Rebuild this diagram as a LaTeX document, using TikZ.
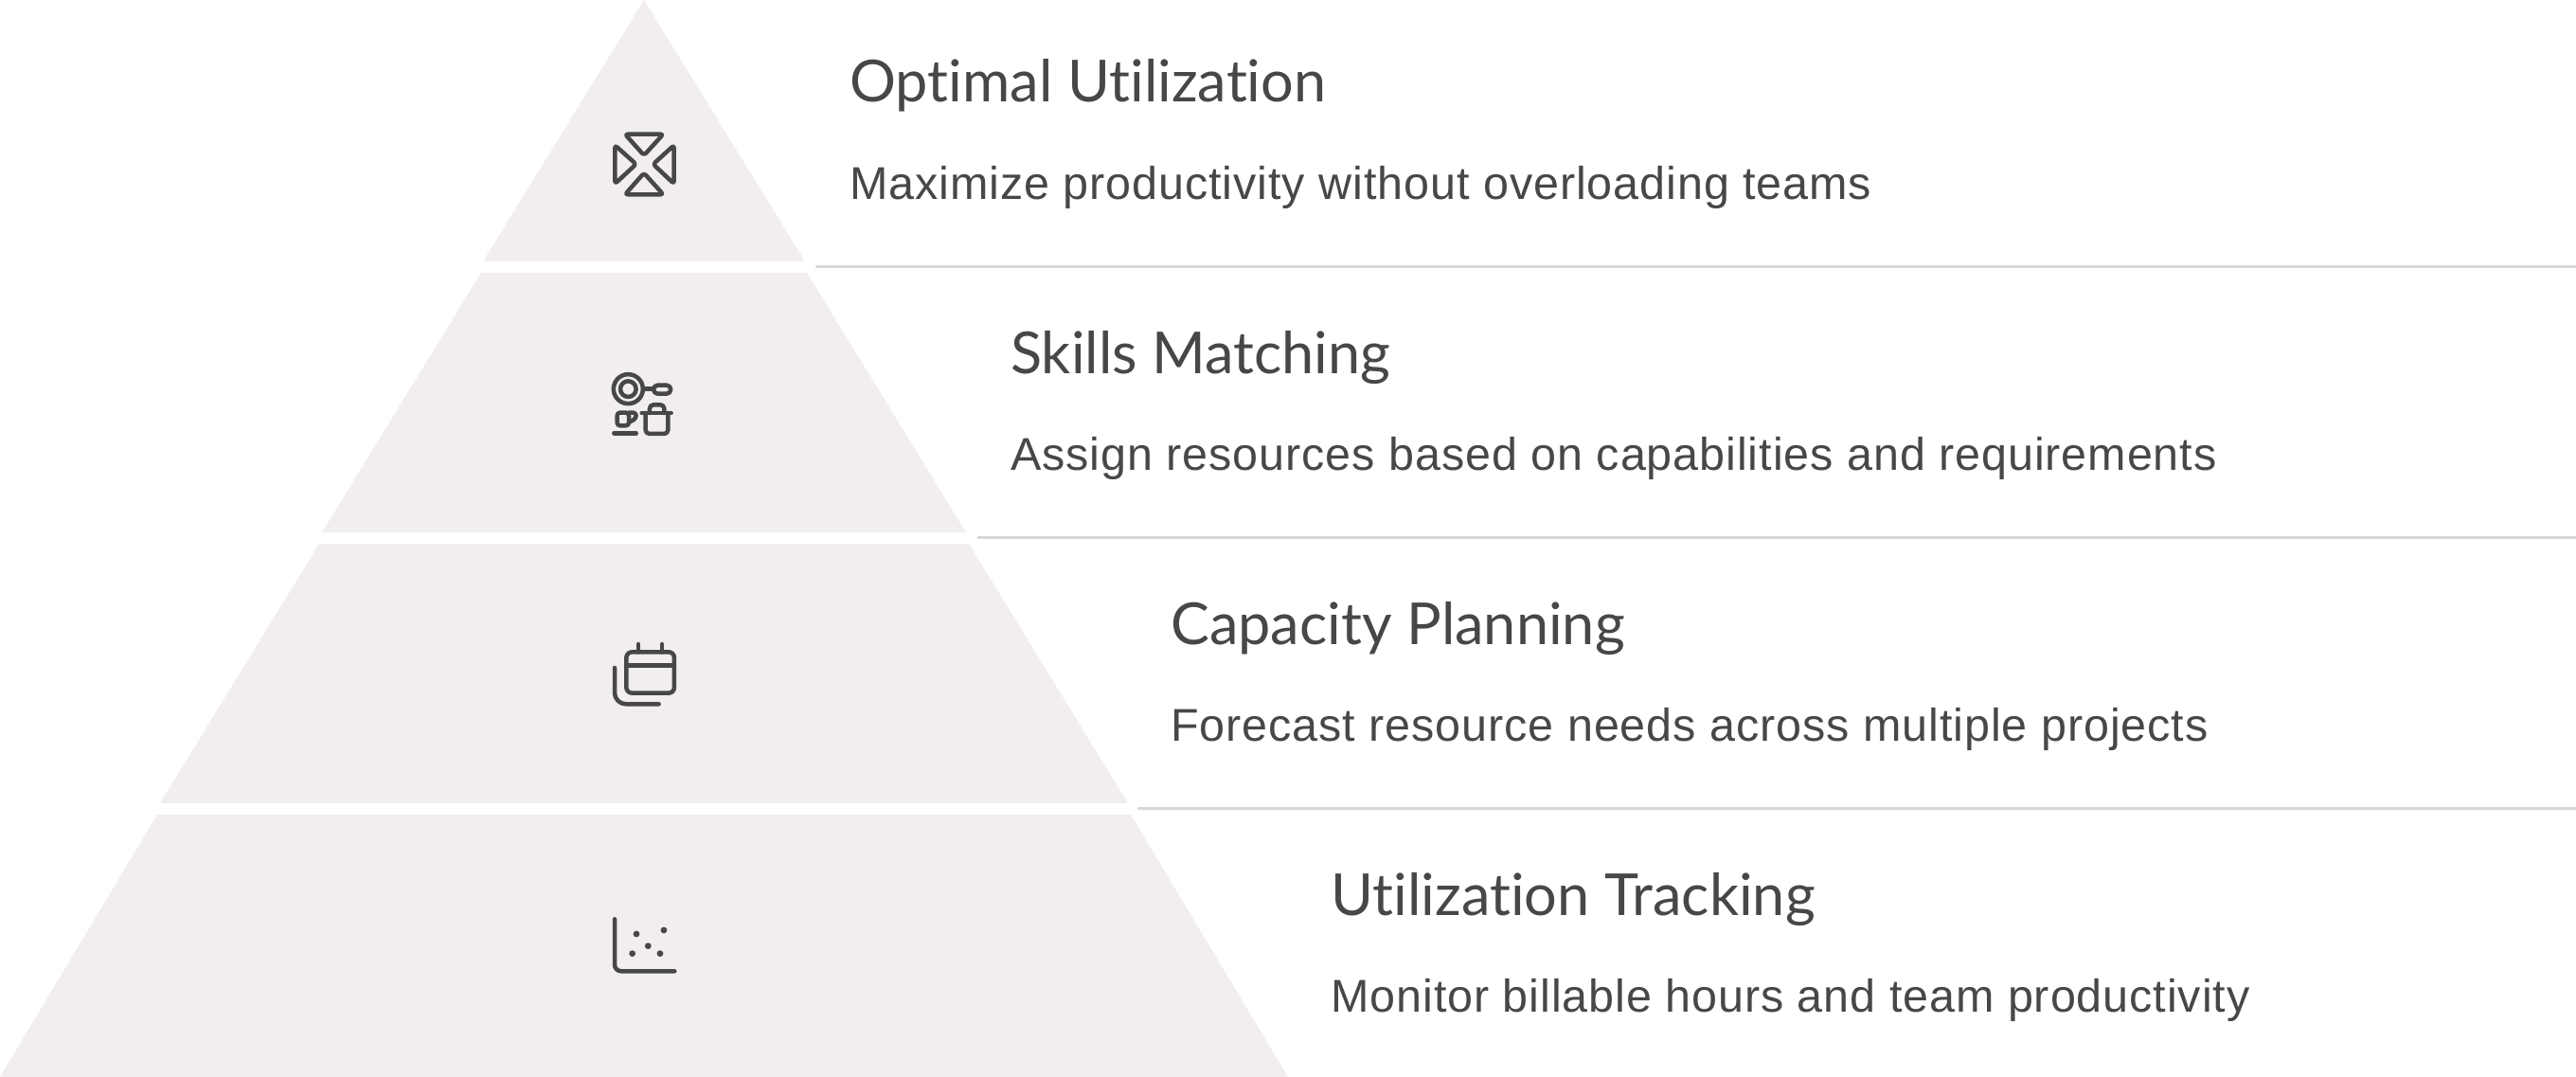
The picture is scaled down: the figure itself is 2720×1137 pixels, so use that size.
\documentclass[tikz,border=0pt]{standalone}
\usepackage{fontspec}
\setmainfont[LetterSpace=1.9]{Liberation Sans}
\newfontfamily\titlefont[Ligatures=NoCommon]{Lato}
\definecolor{band}{HTML}{F1EEED}
\definecolor{ink}{HTML}{474747}
\definecolor{rule}{HTML}{D9D6D6}
\tikzset{
  bandfill/.style={fill=band,draw=none},
  sepline/.style={draw=rule,line width=3pt,line cap=round},
  titletext/.style={anchor=base west,inner sep=0pt,text=ink,font=\titlefont\fontsize{61.2}{61.2}\selectfont},
  bodytext/.style={anchor=base west,inner sep=0pt,text=ink,font=\fontsize{48.5}{48.5}\selectfont},
  iconline/.style={draw=ink,line width=4.5pt,line cap=round,line join=round},
  iconscale/.style={x=0.3333pt,y=-0.3333pt}
}
\begin{document}
\begin{tikzpicture}[x=1pt,y=-1pt]
\useasboundingbox (0,0) rectangle (2720,1137);
% pyramid bands
\fill[bandfill] (680,0) -- (850,276) -- (510,276) -- cycle;
\fill[bandfill] (852,288) -- (1020,562) -- (340,562) -- (508,288) -- cycle;
\fill[bandfill] (1023,574) -- (1191,848) -- (169,848) -- (337,574) -- cycle;
\fill[bandfill] (1194,860) -- (1360,1137) -- (0,1137) -- (166,860) -- cycle;
% separators
\coordinate (s1a) at (862,281); \coordinate (s1b) at (2720,281);
\coordinate (s2a) at (1033,567); \coordinate (s2b) at (2720,567);
\coordinate (s3a) at (1202,853); \coordinate (s3b) at (2720,853);
\draw[sepline] (s1a) -- (s1b);
\draw[sepline] (s2a) -- (s2b);
\draw[sepline] (s3a) -- (s3b);
% texts
\node[titletext] (t1) at (897,108) {Optimal Utilization};
\node[bodytext] (b1) at (897,210) {Maximize productivity without overloading teams};
\node[titletext] (t2) at (1067,394) {Skills Matching};
\node[bodytext] (b2) at (1067,496) {Assign resources based on capabilities and requirements};
\node[titletext] (t3) at (1236,680) {Capacity Planning};
\node[bodytext] (b3) at (1236,782) {Forecast resource needs across multiple projects};
\node[titletext] (t4) at (1405,966) {Utilization Tracking};
\node[bodytext] (b4) at (1405,1068) {Monitor billable hours and team productivity};
% icon 1
\begin{scope}[shift={(600,100)},iconscale]
\draw[iconline,rounded corners=3pt] (180,125) -- (301,125) -- (240,192) -- cycle;
\draw[iconline,rounded corners=3pt] (180,316) -- (301,316) -- (240,248) -- cycle;
\draw[iconline,rounded corners=3pt] (148,160) -- (148,282) -- (215,220) -- cycle;
\draw[iconline,rounded corners=3pt] (335,160) -- (335,282) -- (269,220) -- cycle;
\end{scope}
% icon 2
\begin{scope}[shift={(600,370)},iconscale]
\draw[iconline] (190,122) circle[radius=15.5pt];
\draw[iconline] (190,122) circle[radius=8.3pt];
\draw[iconline] (238,122) -- (270,122);
\draw[iconline,rounded corners=4.5pt] (270,110) rectangle (325,137);
\draw[iconline,rounded corners=3pt] (155,197) -- (192,197) -- (192,238) -- (155,238) -- cycle;
\draw[iconline,rounded corners=3pt] (192,197) -- (215,197) -- (215,215) -- (192,228);
\draw[iconline] (145,262) -- (215,262);
\draw[iconline] (233,198) -- (326,198);
\draw[iconline,rounded corners=4pt] (245,198) -- (245,264) -- (316,264) -- (316,198);
\draw[iconline,rounded corners=4pt] (258,198) -- (258,172) -- (304,172) -- (304,198);
\end{scope}
% icon 3
\begin{scope}[shift={(600,655)},iconscale]
\draw[iconline,rounded corners=6pt] (184,100) rectangle (336,230);
\draw[iconline] (184,142) -- (336,142);
\draw[iconline] (222,75) -- (222,100);
\draw[iconline] (297,75) -- (297,100);
\draw[iconline,rounded corners=12pt] (147,150) -- (147,265) -- (287,265);
\end{scope}
% icon 4
\begin{scope}[shift={(600,945)},iconscale]
\draw[iconline,rounded corners=7pt] (147,76) -- (147,241) -- (337,241);
\foreach \p in {(216,123),(303,111),(253,161),(203,185),(291,185)}
  \fill[ink] \p circle[radius=3.4pt];
\end{scope}
\end{tikzpicture}
\end{document}
